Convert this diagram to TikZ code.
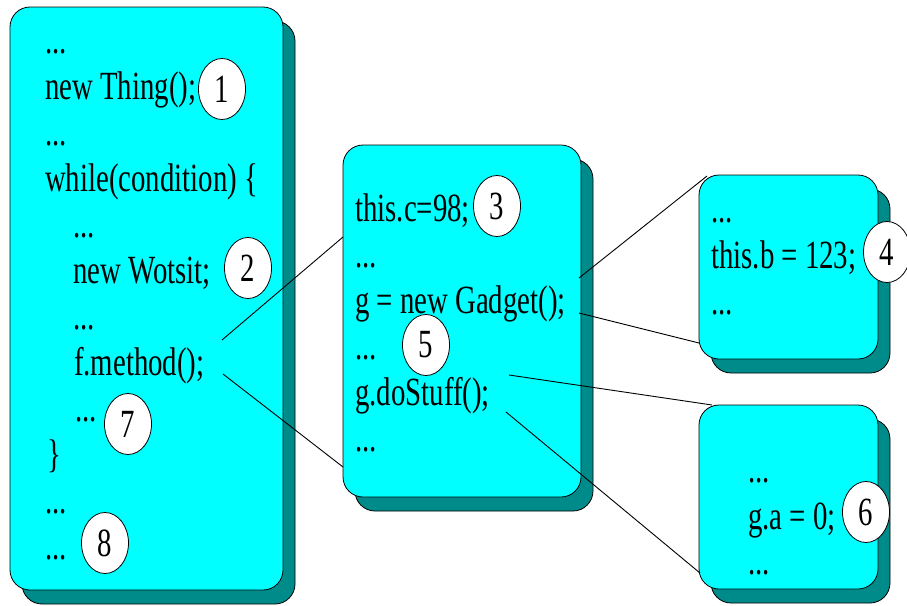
\documentclass[tikz,border=0pt]{standalone}
\usepackage{fontspec}
\setmainfont{Liberation Serif}[FakeStretch=0.72]
\usetikzlibrary{shapes.geometric}
\definecolor{panelfill}{RGB}{0,255,255}
\definecolor{panelshade}{RGB}{0,139,139}
\begin{document}
\begin{tikzpicture}[x=1pt,y=-1pt,
  panel/.style={draw=black, line width=0.8pt, rounded corners=20pt, fill=panelfill, inner sep=0pt},
  shadebox/.style={panel, fill=panelshade},
  code/.style={anchor=base west, inner sep=0pt, font=\fontsize{40}{46}\selectfont},
  tag/.style={ellipse, draw=black, fill=white, line width=0.8pt, minimum width=47pt,
              minimum height=61pt, inner sep=0pt, font=\fontsize{40}{46}\selectfont},
  link/.style={draw=black, line width=0.9pt}]
\useasboundingbox (0,0) rectangle (907,605);

% caller panel
\node[shadebox, minimum width=273pt, minimum height=583pt] (b1s) at (158.5,312.5) {};
\node[panel,    minimum width=273pt, minimum height=583pt] (b1)  at (146.5,298.5) {};
% method body panel
\node[shadebox, minimum width=238pt, minimum height=352pt] (b2s) at (474,335) {};
\node[panel,    minimum width=238pt, minimum height=352pt] (b2)  at (462,321) {};
% constructor panel
\node[shadebox, minimum width=179pt, minimum height=184pt] (b3s) at (800.5,281) {};
\node[panel,    minimum width=179pt, minimum height=184pt] (b3)  at (788.5,267) {};
% doStuff panel
\node[shadebox, minimum width=179pt, minimum height=184pt] (b4s) at (800.5,511) {};
\node[panel,    minimum width=179pt, minimum height=184pt] (b4)  at (788.5,497) {};

% code in the caller
\node[code] (l1)  at (45,53)  {...};
\node[code] (l2)  at (45,99)  {new Thing();};
\node[code] (l3)  at (45,145) {...};
\node[code] (l4)  at (45,191) {while(condition) \{};
\node[code] (l5)  at (73,237) {...};
\node[code] (l6)  at (73,283) {new Wotsit;};
\node[code] (l7)  at (73,329) {...};
\node[code] (l8)  at (74,375) {f.method();};
\node[code] (l9)  at (75,421) {...};
\node[code] (l10) at (47,467) {\}};
\node[code] (l11) at (45,513) {...};
\node[code] (l12) at (45,559) {...};

% code in the method
\node[code] (m1) at (355,221) {this.c=98;};
\node[code] (m2) at (355,267) {...};
\node[code] (m3) at (355,313) {g = new Gadget();};
\node[code] (m4) at (355,359) {...};
\node[code] (m5) at (355,405) {g.doStuff();};
\node[code] (m6) at (355,451) {...};

% code in the constructor
\node[code] (c1) at (711,222) {...};
\node[code] (c2) at (711,268) {this.b = 123;};
\node[code] (c3) at (711,314) {...};

% code in doStuff
\node[code] (d1) at (748,482) {...};
\node[code] (d2) at (748,529) {g.a = 0;};
\node[code] (d3) at (748,574) {...};

% numbered markers
\node[tag] (t1) at (222,89)  {1};
\node[tag] (t2) at (248,268) {2};
\node[tag] (t3) at (497,206) {3};
\node[tag] (t4) at (887,252) {4};
\node[tag] (t5) at (426,345) {5};
\node[tag] (t6) at (866,512) {6};
\node[tag] (t7) at (128,424) {7};
\node[tag] (t8) at (105,543) {8};

% call lines between panels
\coordinate (callA) at (222,340);
\coordinate (callB) at (223,374);
\coordinate (methA) at (343,237);
\coordinate (methB) at (343,467);
\coordinate (newA)  at (579,278);
\coordinate (newB)  at (579,313);
\coordinate (ctorA) at (707,176);
\coordinate (ctorB) at (699,343);
\coordinate (doA)   at (509,375);
\coordinate (doB)   at (506,412);
\coordinate (bodyA) at (712,405);
\coordinate (bodyB) at (700,573);

\draw[link] (callA) -- (methA);
\draw[link] (callB) -- (methB);
\draw[link] (newA) -- (ctorA);
\draw[link] (newB) -- (ctorB);
\draw[link] (doA) -- (bodyA);
\draw[link] (doB) -- (bodyB);
\end{tikzpicture}
\end{document}
